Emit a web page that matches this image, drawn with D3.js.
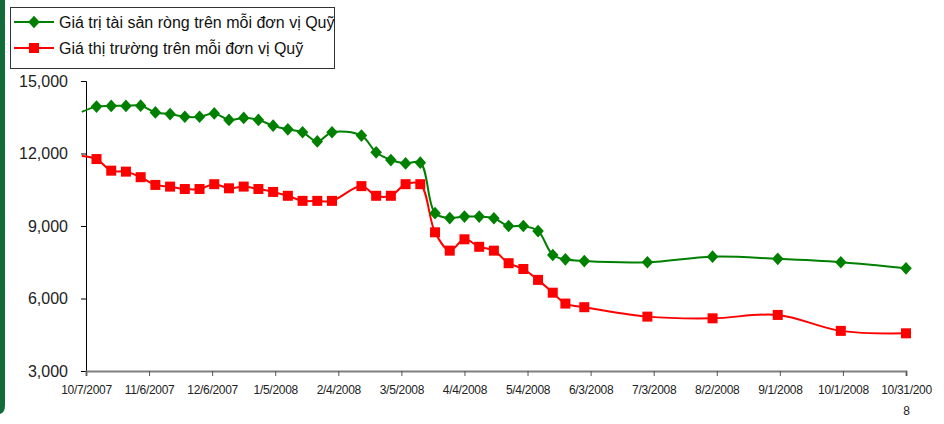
<!DOCTYPE html>
<html>
<head>
<meta charset="utf-8">
<script src="https://cdn.jsdelivr.net/npm/d3@7"></script>
<style>
  html, body { margin: 0; padding: 0; background: #fff; }
  svg { display: block; font-family: "Liberation Sans", Arial, sans-serif; }
</style>
</head>
<body>
<svg id="chart"></svg>
<script>
// ── Data ──────────────────────────────────────────────────────────────────
const dates = [
  "2007-10-05","2007-10-12","2007-10-19","2007-10-26","2007-11-02","2007-11-09",
  "2007-11-16","2007-11-23","2007-11-30","2007-12-07","2007-12-14","2007-12-21",
  "2007-12-28","2008-01-04","2008-01-11","2008-01-18","2008-01-25","2008-02-01",
  "2008-02-15","2008-02-22","2008-02-29","2008-03-07","2008-03-14","2008-03-21",
  "2008-03-28","2008-04-04","2008-04-11","2008-04-18","2008-04-25","2008-05-02",
  "2008-05-09","2008-05-16","2008-05-22","2008-05-31","2008-06-30","2008-07-31",
  "2008-08-31","2008-09-30","2008-10-31"
];
const navPerUnit = [
  13720, 13940, 13970, 13970, 13980, 13700, 13630, 13520, 13520, 13660, 13390, 13470,
  13390, 13150, 13000, 12880, 12500, 12880, 12740, 12050, 11730, 11590, 11620, 9530,
  9330, 9390, 9390, 9320, 9000, 9000, 8790, 7800, 7620, 7550, 7500, 7730,
  7640, 7500, 7250
];
const marketPerUnit = [
  11900, 11770, 11290, 11250, 11020, 10700, 10630, 10530, 10530, 10730, 10560, 10630,
  10530, 10410, 10250, 10040, 10040, 10040, 10650, 10250, 10250, 10730, 10730, 8740,
  7980, 8450, 8140, 7980, 7460, 7220, 6770, 6240, 5790, 5640, 5250, 5180,
  5320, 4660, 4560
];
const seriesNames = [
  "Giá trị tài sản ròng trên mỗi đơn vị Quỹ",
  "Giá thị trường trên mỗi đơn vị Quỹ"
];
const xTickLabels = [
  "10/7/2007","11/6/2007","12/6/2007","1/5/2008","2/4/2008","3/5/2008","4/4/2008",
  "5/4/2008","6/3/2008","7/3/2008","8/2/2008","9/1/2008","10/1/2008","10/31/2008"
];
const yTicks = [3000, 6000, 9000, 12000, 15000];

// ── Layout ────────────────────────────────────────────────────────────────
const W = 944, H = 424;
const plot = { left: 86, right: 906, top: 81, bottom: 371 };

const svg = d3.select("#chart").attr("width", W).attr("height", H);

// dark green page stripe on the left
svg.append("path")
    .attr("d", "M0,0 H5 V405 Q5,413 0,414 Z")
    .attr("fill", "#116b3a");

const parse = d3.timeParse("%Y-%m-%d");
const parseTick = d3.timeParse("%m/%d/%Y");
const tickDates = xTickLabels.map(parseTick);

const x = d3.scaleTime()
    .domain([tickDates[0], tickDates[tickDates.length - 1]])
    .range([plot.left, plot.right]);

const y = d3.scaleLinear()
    .domain([3000, 15000])
    .range([plot.bottom, plot.top]);

const rows = dates.map((d, i) => ({
  date: parse(d), nav: navPerUnit[i], mkt: marketPerUnit[i]
}));

// ── Axes ──────────────────────────────────────────────────────────────────
const yAxis = svg.append("g")
    .attr("transform", `translate(${plot.left},0)`)
    .call(d3.axisLeft(y).tickValues(yTicks).tickSize(5).tickPadding(13)
        .tickFormat(d3.format(",")));
yAxis.select(".domain").attr("stroke", "#000").attr("stroke-width", 1);
yAxis.selectAll(".tick line").attr("stroke", "#000");
yAxis.selectAll("text")
    .attr("font-size", 16).attr("fill", "#222")
    .attr("font-family", "Liberation Sans, Arial, sans-serif");

const xAxis = svg.append("g")
    .attr("transform", `translate(0,${plot.bottom})`)
    .call(d3.axisBottom(x).tickValues(tickDates).tickSize(5).tickPadding(9)
        .tickFormat((d, i) => xTickLabels[i]));
xAxis.select(".domain").attr("stroke", "#7f7f7f").attr("stroke-width", 2);
xAxis.selectAll(".tick line").attr("stroke", "#555");
xAxis.selectAll("text")
    .attr("font-size", 12).attr("fill", "#222")
    .attr("font-family", "Liberation Sans, Arial, sans-serif")
    .attr("letter-spacing", -0.3);

// last label wraps in the original
const lastTick = xAxis.selectAll(".tick text").filter((d, i) => i === xTickLabels.length - 1);
lastTick.text(null);
lastTick.append("tspan").attr("x", 0).attr("dy", "0.71em").text("10/31/200");
lastTick.append("tspan").attr("x", 0).attr("dy", "1.8em").text("8");
lastTick.attr("dy", null);

// ── Lines ─────────────────────────────────────────────────────────────────
svg.append("clipPath").attr("id", "clip")
  .append("rect").attr("x", 80).attr("y", 0).attr("width", W - 80).attr("height", H);

const lineGroup = svg.append("g").attr("clip-path", "url(#clip)");
const series = [
  { key: "nav", color: "#008000" },
  { key: "mkt", color: "#ff0000" }
];

series.forEach(s => {
  lineGroup.append("path")
      .datum(rows)
      .attr("fill", "none")
      .attr("stroke", s.color)
      .attr("stroke-width", 2)
      .attr("d", d3.line()
          .curve(d3.curveCatmullRom.alpha(0.5))
          .x(d => x(d.date))
          .y(d => y(d[s.key])));
});

// markers (only inside the axis range)
const visible = rows.filter(d => d.date >= tickDates[0]);
svg.append("g").selectAll("path")
    .data(visible)
    .join("path")
    .attr("transform", d => `translate(${x(d.date)},${y(d.nav)}) scale(1,1.1)`)
    .attr("d", d3.symbol(d3.symbolDiamond2, 85))
    .attr("fill", "#008000");

svg.append("g").selectAll("rect")
    .data(visible)
    .join("rect")
    .attr("x", d => x(d.date) - 5)
    .attr("y", d => y(d.mkt) - 5)
    .attr("width", 10).attr("height", 10)
    .attr("fill", "#ff0000");

// ── Legend ────────────────────────────────────────────────────────────────
const legend = svg.append("g");
legend.append("rect")
    .attr("x", 10.5).attr("y", 7.5)
    .attr("width", 324).attr("height", 61)
    .attr("fill", "#fff")
    .attr("stroke", "#333").attr("stroke-width", 1);

series.forEach((s, i) => {
  const ly = 22 + i * 26;
  legend.append("line")
      .attr("x1", 14).attr("x2", 54)
      .attr("y1", ly).attr("y2", ly)
      .attr("stroke", s.color).attr("stroke-width", 2);
  if (i === 0) {
    legend.append("path")
        .attr("transform", `translate(34,${ly}) scale(1,1.1)`)
        .attr("d", d3.symbol(d3.symbolDiamond2, 85))
        .attr("fill", s.color);
  } else {
    legend.append("rect")
        .attr("x", 29).attr("y", ly - 5)
        .attr("width", 10).attr("height", 10)
        .attr("fill", s.color);
  }
  legend.append("text")
      .attr("x", 59).attr("y", ly + 6)
      .attr("font-size", 16).attr("fill", "#111")
      .text(seriesNames[i]);
});
</script>
</body>
</html>
